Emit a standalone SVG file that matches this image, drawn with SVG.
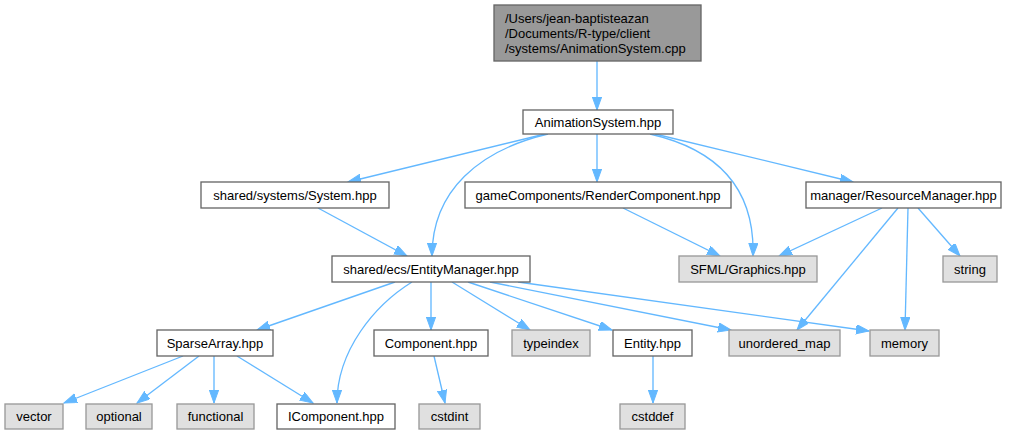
<svg xmlns="http://www.w3.org/2000/svg" width="1017" height="435" viewBox="0 0 1017 435">
<style>
  .n rect { fill: #ffffff; stroke: #666666; stroke-width: 1.33; }
  .n.g rect { fill: #e0e0e0; stroke: #999999; }
  .n.top rect { fill: #999999; stroke: #666666; }
  .n text { font-family: "Liberation Sans", Arial, Helvetica, sans-serif; font-size: 13px; fill: #000000; text-anchor: middle; }
  .n.top text { text-anchor: start; }
  #edges path { fill: none; stroke: #63b8ff; stroke-width: 1.33; marker-end: url(#ah); }
</style>
<defs>
  <marker id="ah" markerUnits="userSpaceOnUse" markerWidth="14" markerHeight="10" refX="13" refY="4.65" orient="auto">
    <path d="M0,0 L13,4.65 L0,9.3 z" fill="#63b8ff" stroke="#63b8ff" stroke-width="1"/>
  </marker>
</defs>
<rect width="1017" height="435" fill="#ffffff"/>
<g id="edges">
  <path d="M597,61 L597,110"/>
  <path d="M545,134 L348,182"/>
  <path d="M548,134 C480,150 432,190 432,256"/>
  <path d="M597,134 L597,182"/>
  <path d="M650,134 C720,150 755,190 753,256"/>
  <path d="M655,134 L853,182"/>
  <path d="M318,208 L407,256"/>
  <path d="M623,208 L720,256"/>
  <path d="M882,208 L779,256"/>
  <path d="M918,208 L960,256"/>
  <path d="M898,208 L797,330"/>
  <path d="M908,208 L905,330"/>
  <path d="M395,282 L257,330"/>
  <path d="M412,282 C375,305 337,350 337,403"/>
  <path d="M431,282 L431,330"/>
  <path d="M452,282 L530,330"/>
  <path d="M468,282 L612,330"/>
  <path d="M490,282 L731,330"/>
  <path d="M518,282 L869,331"/>
  <path d="M183,356 L64,403"/>
  <path d="M199,356 L137,403"/>
  <path d="M214,356 L214,403"/>
  <path d="M237,356 L313,403"/>
  <path d="M434,356 L445,403"/>
  <path d="M653,356 L653,403"/>
</g>
<g id="n_cpp" class="n top"><rect x="494" y="5" width="207" height="56"/>
  <text x="505" y="23">/Users/jean-baptisteazan</text>
  <text x="505" y="38">/Documents/R-type/client</text>
  <text x="505" y="53">/systems/AnimationSystem.cpp</text></g>
<g id="n_anim" class="n"><rect x="523" y="110" width="150" height="24"/><text x="598" y="127">AnimationSystem.hpp</text></g>
<g id="n_system" class="n"><rect x="201" y="182" width="188" height="26"/><text x="295" y="200">shared/systems/System.hpp</text></g>
<g id="n_render" class="n"><rect x="465" y="182" width="266" height="26"/><text x="598" y="200">gameComponents/RenderComponent.hpp</text></g>
<g id="n_resource" class="n"><rect x="806" y="182" width="195" height="26"/><text x="903.5" y="200">manager/ResourceManager.hpp</text></g>
<g id="n_sfml" class="n g"><rect x="679" y="256" width="138" height="26"/><text x="748" y="274">SFML/Graphics.hpp</text></g>
<g id="n_string" class="n g"><rect x="943" y="256" width="54" height="26"/><text x="970" y="274">string</text></g>
<g id="n_entitymgr" class="n"><rect x="332" y="256" width="198" height="26"/><text x="431" y="274">shared/ecs/EntityManager.hpp</text></g>
<g id="n_sparse" class="n"><rect x="157" y="330" width="116" height="26"/><text x="215" y="348">SparseArray.hpp</text></g>
<g id="n_component" class="n"><rect x="374" y="330" width="114" height="26"/><text x="431" y="348">Component.hpp</text></g>
<g id="n_typeindex" class="n g"><rect x="512" y="330" width="78" height="26"/><text x="551" y="348">typeindex</text></g>
<g id="n_entity" class="n"><rect x="613" y="330" width="79" height="26"/><text x="652.5" y="348">Entity.hpp</text></g>
<g id="n_umap" class="n g"><rect x="729" y="330" width="111" height="26"/><text x="784.5" y="348">unordered_map</text></g>
<g id="n_memory" class="n g"><rect x="870" y="330" width="69" height="26"/><text x="904.5" y="348">memory</text></g>
<g id="n_vector" class="n g"><rect x="5" y="404" width="58" height="25"/><text x="34" y="421">vector</text></g>
<g id="n_optional" class="n g"><rect x="86" y="404" width="66" height="25"/><text x="119" y="421">optional</text></g>
<g id="n_functional" class="n g"><rect x="177" y="404" width="77" height="25"/><text x="215.5" y="421">functional</text></g>
<g id="n_icomponent" class="n"><rect x="277" y="404" width="118" height="25"/><text x="336" y="421">IComponent.hpp</text></g>
<g id="n_cstdint" class="n g"><rect x="419" y="404" width="61" height="25"/><text x="449.5" y="421">cstdint</text></g>
<g id="n_cstddef" class="n g"><rect x="620" y="404" width="65" height="25"/><text x="652.5" y="421">cstddef</text></g>
</svg>
